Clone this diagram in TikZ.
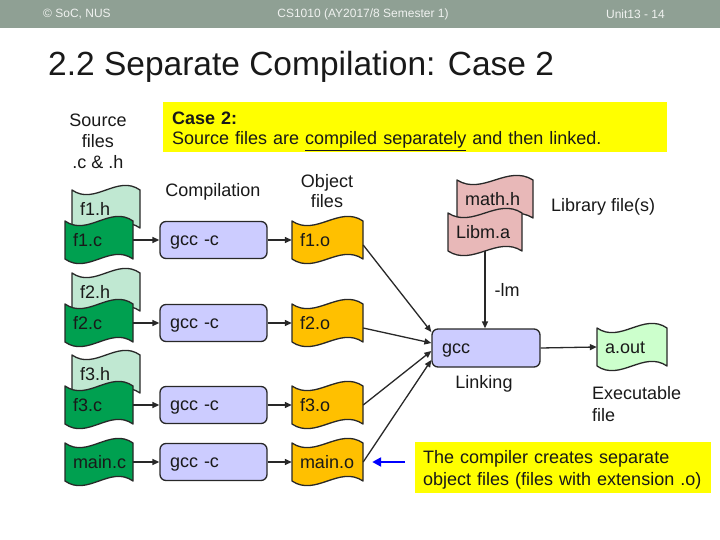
\documentclass[tikz,border=0pt]{standalone}
\usepackage{fontspec}
\setmainfont{Liberation Sans}
\usetikzlibrary{arrows.meta,calc}
\definecolor{hdr}{RGB}{143,160,148}
\definecolor{hdrtxt}{RGB}{240,242,240}
\definecolor{srcc}{RGB}{0,160,80}
\definecolor{srch}{RGB}{192,232,210}
\definecolor{objc}{RGB}{255,192,0}
\definecolor{libc}{RGB}{232,184,184}
\definecolor{exec}{RGB}{204,255,204}
\definecolor{gccc}{RGB}{204,204,255}
\definecolor{edgec}{RGB}{40,40,40}
\definecolor{txt}{RGB}{25,25,25}
\definecolor{yel}{RGB}{255,255,0}
\tikzset{
  wavestyle/.style={draw=edgec, line width=1.3pt, line join=round},
  filelabel/.style={font=\fontsize{18}{21}\selectfont, text=txt, align=left, inner sep=0pt,
    text height=17pt, text depth=4pt},
  gccbox/.style={draw=edgec, fill=gccc, line width=1.3pt, rounded corners=6pt,
    minimum width=107pt, minimum height=37pt, text width=87pt, align=left,
    inner sep=0pt, font=\fontsize{18}{21}\selectfont, text=txt,
    text height=14pt, text depth=4pt},
  arr/.style={-{Triangle[length=7pt,width=6pt]}, line width=1.3pt, draw=edgec},
  bluearr/.style={-{Triangle[length=9pt,width=9pt]}, line width=2.5pt, draw=blue},
  lbl/.style={font=\fontsize{18}{21}\selectfont, text=txt, inner sep=0pt},
  hdrtext/.style={font=\fontsize{12}{14}\selectfont, text=hdrtxt, inner sep=0pt},
  yellowbox/.style={fill=yel, inner ysep=0pt, align=left, text=txt},
}
\newcommand\wavefile[7]{%
  \pgfmathsetmacro\wvA{#2+(#4-#2)/3}%
  \pgfmathsetmacro\wvB{#2+2*(#4-#2)/3}%
  \pgfmathsetmacro\wvW{#4-#2}%
  \pgfmathsetmacro\wvT{#4-#2-16}%
  \pgfmathsetmacro\wvH{#5-#3}%
  \filldraw[wavestyle,fill=#6] (#2,#3) .. controls (\wvA,{#3+16}) and (\wvB,{#3-16}) .. (#4,#3)
     -- (#4,#5) .. controls (\wvB,{#5-16}) and (\wvA,{#5+16}) .. (#2,#5) -- cycle;
  \node[filelabel, minimum width=\wvW pt, minimum height=\wvH pt, text width=\wvT pt]
     (#1) at ({(#2+#4)/2},{(#3+#5)/2}) {#7};
}
\begin{document}
\begin{tikzpicture}[x=1pt,y=-1pt]
\useasboundingbox (0,0) rectangle (720,540);
\fill[white] (0,0) rectangle (720,540);
\fill[hdr] (0,0) rectangle (720,28);
\node[hdrtext, anchor=west] (hl) at (43,14) {© SoC, NUS};
\node[hdrtext] (hc) at (363,14) {CS1010 (AY2017/8 Semester 1)};
\node[hdrtext, anchor=east] (hr) at (665,14) {Unit13 - 14};

\node[anchor=base west, font=\fontsize{33.5}{40}\selectfont, inner sep=0pt, text=txt] (title) at (48,76) {2.2 Separate Compilation: Case 2};

\node[yellowbox, anchor=north west, minimum width=504pt, minimum height=50pt,
  text width=486pt, inner xsep=9pt, font=\fontsize{18}{20}\selectfont] (case) at (163,102)
  {\rule{0pt}{21pt}\textbf{Case 2:}\\Source files are \underline{compiled separately} and then linked.};

\node[lbl, align=center] (srclbl) at (98,141) {Source\\files\\.c \& .h};
\node[lbl] (comp) at (213,192) {Compilation};
\node[lbl, align=center, font=\fontsize{18}{20}\selectfont] (objl) at (327,191) {Object\\files};
\node[lbl, anchor=west] (libl) at (551,207) {Library file(s)};
\node[lbl] (linkl) at (484,384) {Linking};
\node[lbl, align=left, anchor=west, font=\fontsize{18}{22}\selectfont] (exl) at (592,404) {Executable\\file};

% source files
\wavefile{f1h}{72}{190}{140}{228}{srch}{f1.h}
\wavefile{f1c}{65}{221}{133}{259}{srcc}{f1.c}
\wavefile{f2h}{72}{273}{140}{311}{srch}{f2.h}
\wavefile{f2c}{65}{304}{133}{342}{srcc}{f2.c}
\wavefile{f3h}{72}{355}{140}{393}{srch}{f3.h}
\wavefile{f3c}{65}{386}{133}{424}{srcc}{f3.c}
\wavefile{mc}{65}{443}{133}{481}{srcc}{main.c}

% compile boxes
\node[gccbox] (g1) at (213.5,240) {gcc -c};
\node[gccbox] (g2) at (213.5,323) {gcc -c};
\node[gccbox] (g3) at (213.5,405) {gcc -c};
\node[gccbox] (g4) at (213.5,462) {gcc -c};

% object files
\wavefile{o1}{292}{221}{363}{259}{objc}{f1.o}
\wavefile{o2}{292}{304}{363}{342}{objc}{f2.o}
\wavefile{o3}{292}{386}{363}{424}{objc}{f3.o}
\wavefile{mo}{292}{443}{363}{481}{objc}{main.o}

% library
\wavefile{mh}{457}{180}{533}{218}{libc}{math.h}
\wavefile{lib}{448}{213}{522}{251}{libc}{Libm.a}

% link
\node[gccbox, minimum width=108pt, minimum height=38pt, text width=88pt] (lk) at (486,348) {gcc};
\wavefile{ao}{597}{328}{667}{366}{exec}{a.out}

\node[yellowbox, anchor=north west, minimum width=296pt, minimum height=51pt,
  text width=280pt, inner xsep=8pt, font=\fontsize{18}{22}\selectfont] (note) at (415,442)
  {\rule{0pt}{17pt}The compiler creates separate\\object files (files with extension .o)};

% connectors
\draw[arr] (f1c.east) -- (g1.west);
\draw[arr] (f2c.east) -- (g2.west);
\draw[arr] (f3c.east) -- (g3.west);
\draw[arr] (mc.east) -- (g4.west);
\draw[arr] (g1.east) -- (o1.west);
\draw[arr] (g2.east) -- (o2.west);
\draw[arr] (g3.east) -- (o3.west);
\draw[arr] (g4.east) -- (mo.west);
\draw[arr] ([yshift=-5pt]o1.east) -- ([yshift=16pt]lk.west);
\draw[arr] ([yshift=-5pt]o2.east) -- ([yshift=5pt]lk.west);
\draw[arr] (o3.east) -- ([yshift=-3pt]lk.west);
\draw[arr] (mo.east) -- ([yshift=-12pt]lk.west);
\draw[arr] (lib.south) -- (lib.south |- lk.north) node[lbl, midway, anchor=west, xshift=9pt] {-lm};
\draw[arr] (lk.east) -- (ao.west);
\draw[bluearr] ($(note.west |- mo.east)+(-10,0)$) -- ($(mo.east)+(9,0)$);
\end{tikzpicture}
\end{document}
